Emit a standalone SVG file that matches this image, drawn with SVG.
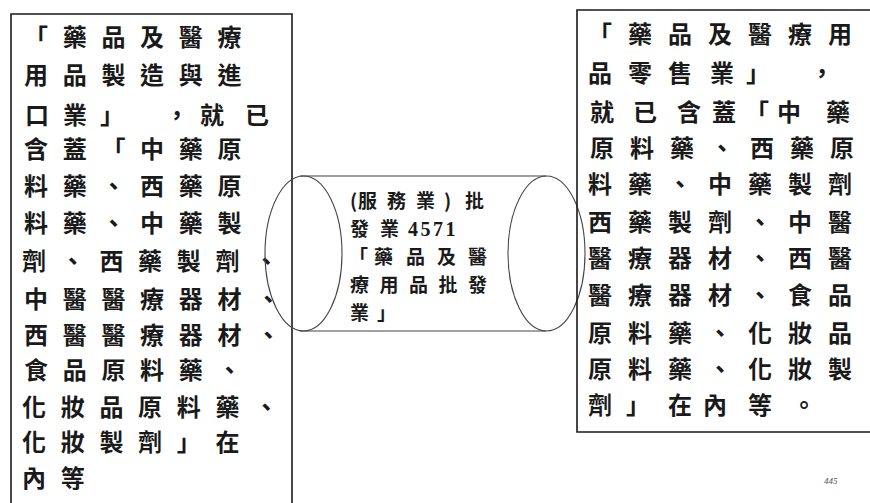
<svg xmlns="http://www.w3.org/2000/svg" width="870" height="503" viewBox="0 0 870 503">
<style>
  .frame{fill:none;stroke:#1a1a1a;stroke-width:1.6}
  .ell{fill:none;stroke:#444;stroke-width:1.1}
  .big{font-family:"Noto Sans CJK TC","Noto Sans CJK SC",sans-serif;font-size:24px;font-weight:700;fill:#1a1a1a}
  .lft{letter-spacing:14.7px}
  .rgt{letter-spacing:16px}
  .mid{font-family:"Noto Sans CJK TC","Noto Sans CJK SC",sans-serif;font-size:19px;font-weight:700;fill:#1a1a1a}
  .num{font-family:"Liberation Serif",serif;font-size:20px;font-weight:700;letter-spacing:2.5px}
  .pg{font-family:"Liberation Serif",serif;font-size:9px;font-style:italic;fill:#555}
</style>
<rect width="870" height="503" fill="#fff"/>

<g id="left-box">
  <polyline class="frame" points="11,503 11,14 292,14 292,503"/>
  <text class="big lft" x="24" y="46">「藥品及醫療</text>
  <text class="big lft" x="24" y="84">用品製造與進</text>
  <text class="big" y="124"><tspan x="25">口</tspan><tspan x="63">業</tspan><tspan x="100">」</tspan><tspan x="165">，</tspan><tspan x="200">就</tspan><tspan x="245">已</tspan></text>
  <text class="big lft" x="24" y="158">含蓋「中藥原</text>
  <text class="big lft" x="24" y="195">料藥、西藥原</text>
  <text class="big lft" x="24" y="232">料藥、中藥製</text>
  <text class="big lft" x="22" y="270">劑、西藥製劑、</text>
  <text class="big lft" x="24" y="308">中醫醫療器材、</text>
  <text class="big lft" x="24" y="344">西醫醫療器材、</text>
  <text class="big lft" x="24" y="379">食品原料藥、</text>
  <text class="big lft" x="22" y="416">化妝品原料藥、</text>
  <text class="big lft" x="22" y="451">化妝製劑」在</text>
  <text class="big lft" x="22" y="487">內等</text>
</g>

<g id="wholesale-cylinder">
  <line class="ell" x1="300" y1="176" x2="546" y2="176"/>
  <line class="ell" x1="300" y1="331" x2="546" y2="331"/>
  <ellipse class="ell" cx="303.5" cy="253.5" rx="38.5" ry="77.5"/>
  <ellipse class="ell" cx="546.5" cy="253.5" rx="38.5" ry="77.5"/>
  <text class="mid" y="208"><tspan x="350">(</tspan><tspan x="358">服</tspan><tspan x="387">務</tspan><tspan x="416">業</tspan><tspan x="444">)</tspan><tspan x="465">批</tspan></text>
  <text class="mid" y="236"><tspan x="350">發</tspan><tspan x="380">業</tspan><tspan class="num" x="408">4571</tspan></text>
  <text class="mid" y="264"><tspan x="349">「</tspan><tspan x="374">藥</tspan><tspan x="406">品</tspan><tspan x="437">及</tspan><tspan x="468">醫</tspan></text>
  <text class="mid" y="292" style="letter-spacing:10.5px" x="350">療用品批發</text>
  <text class="mid" y="320"><tspan x="350">業</tspan><tspan x="377">」</tspan></text>
</g>

<g id="right-box">
  <polyline class="frame" points="871,10 577,10 577,432 871,432"/>
  <text class="big rgt" x="588" y="43">「藥品及醫療用</text>
  <text class="big" y="82"><tspan x="588">品</tspan><tspan x="628">零</tspan><tspan x="668">售</tspan><tspan x="710">業</tspan><tspan x="746">」</tspan><tspan x="810">，</tspan></text>
  <text class="big" y="121"><tspan x="590">就</tspan><tspan x="633">已</tspan><tspan x="677">含</tspan><tspan x="712">蓋</tspan><tspan x="745">「</tspan><tspan x="777">中</tspan><tspan x="826">藥</tspan></text>
  <text class="big rgt" x="590" y="157">原料藥、西藥原</text>
  <text class="big rgt" x="588" y="193">料藥、中藥製劑</text>
  <text class="big rgt" x="588" y="231">西藥製劑、中醫</text>
  <text class="big rgt" x="588" y="267">醫療器材、西醫</text>
  <text class="big rgt" x="588" y="304">醫療器材、食品</text>
  <text class="big rgt" x="588" y="342">原料藥、化妝品</text>
  <text class="big rgt" x="588" y="378">原料藥、化妝製</text>
  <text class="big" y="414"><tspan x="588">劑</tspan><tspan x="626">」</tspan><tspan x="668">在</tspan><tspan x="703">內</tspan><tspan x="748">等</tspan><tspan x="792">。</tspan></text>
  <text class="pg" x="824" y="484">445</text>
</g>
</svg>
